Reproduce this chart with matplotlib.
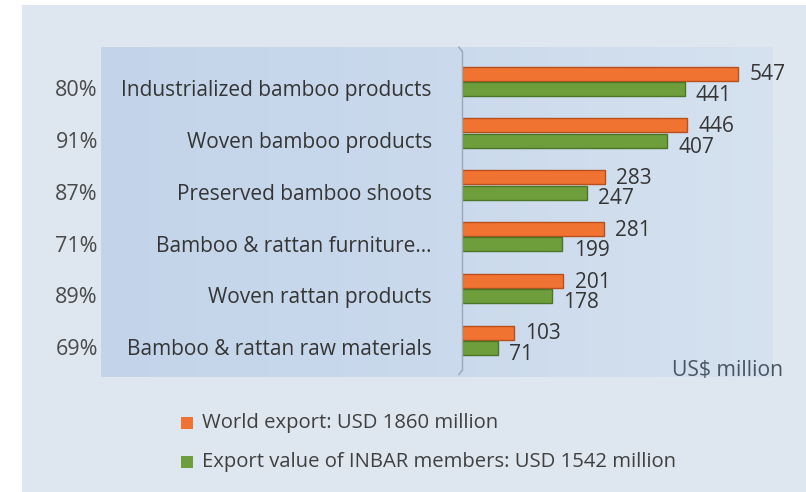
import numpy as np
import matplotlib.pyplot as plt
import matplotlib.transforms as mtransforms
from matplotlib.patches import Rectangle
from matplotlib.colors import LinearSegmentedColormap

# Export values of bamboo & rattan products (US$ million)
categories = ["Industrialized bamboo products", "Woven bamboo products",
              "Preserved bamboo shoots", "Bamboo & rattan furniture...",
              "Woven rattan products", "Bamboo & rattan raw materials"]
world_export = [547, 446, 283, 281, 201, 103]
inbar_export = [441, 407, 247, 199, 178, 71]
inbar_share = ["80%", "91%", "87%", "71%", "89%", "69%"]

legend_labels = ["World export: USD 1860 million",
                 "Export value of INBAR members: USD 1542 million"]

W, H = 806, 492
ORANGE, ORANGE_EDGE = "#f07331", "#b9501c"
GREEN, GREEN_EDGE = "#6e9d3c", "#4b7527"
TEXT = "#353535"
FONT = "Open Sans"

plt.rcParams['font.family'] = [FONT, 'DejaVu Sans']

fig = plt.figure(figsize=(W / 100, H / 100), dpi=100)
fig.patch.set_facecolor("white")


def px_box(x0, y0, x1, y1):
    # pixel box (top-left origin) -> figure fraction [l, b, w, h]
    return [x0 / W, 1 - y1 / H, (x1 - x0) / W, (y1 - y0) / H]


# outer light frame
fig.patches.append(Rectangle((22 / W, 0), 1 - 22 / W, 1 - 5 / H,
                             transform=fig.transFigure, facecolor="#dee6f0",
                             edgecolor="none", zorder=0))

# inner panel with a soft left-to-right gradient
bg = fig.add_axes(px_box(101, 47, 773, 377), zorder=1)
grad = np.linspace(0, 1, 256).reshape(1, -1)
cmap = LinearSegmentedColormap.from_list("panel", ["#c3d4ea", "#cad9ec", "#d6e2ef"])
bg.imshow(grad, aspect="auto", cmap=cmap, extent=[0, 1, 0, 1])
bg.set_axis_off()

# bar area
ax = fig.add_axes(px_box(462, 47, 773, 377), zorder=2)
ax.patch.set_alpha(0)
n = len(categories)
y = np.arange(n)
bh, off = 0.27, 0.15
ax.barh(y - off, world_export, height=bh, color=ORANGE, edgecolor=ORANGE_EDGE,
        linewidth=1.0)
ax.barh(y + off, inbar_export, height=bh, color=GREEN, edgecolor=GREEN_EDGE,
        linewidth=1.0)
ax.set_xlim(0, 616)
ax.set_ylim(n - 1 + 0.708, -0.662)
ax.set_axis_off()

# value labels
for i in range(n):
    ax.annotate(str(world_export[i]), (world_export[i], y[i] - off),
                xytext=(8, -1), textcoords="offset points", ha="left",
                va="center", fontsize=15, color=TEXT)
    ax.annotate(str(inbar_export[i]), (inbar_export[i], y[i] + off),
                xytext=(8, -4.5), textcoords="offset points", ha="left",
                va="center", fontsize=15, color=TEXT)

# 3D-ish wall edge of the value axis
ax.plot([0.0, 0.0], [-0.58, n - 1 + 0.58], color="#9aa8b8", lw=1.0,
        clip_on=False)
ax.plot([0.0, -6], [-0.58, -0.66], color="#9aa8b8", lw=1.0, clip_on=False)
ax.plot([0.0, -6], [n - 1 + 0.58, n - 1 + 0.66], color="#9aa8b8", lw=1.0,
        clip_on=False)

# category and share labels
tr = mtransforms.blended_transform_factory(fig.transFigure, ax.transData)
for i in range(n):
    fig.text(432 / W, y[i] + 0.18, categories[i], transform=tr, ha="right",
             va="center", fontsize=15, color=TEXT)
    fig.text(98 / W, y[i] + 0.18, inbar_share[i], transform=tr, ha="right",
             va="center", fontsize=15.5, color="#4a4a4a")

fig.text(783 / W, 1 - 370 / H, "US$ million", ha="right", va="center",
         fontsize=15.2, color="#4a5562")

# legend
for k, (lab, col) in enumerate(zip(legend_labels, [ORANGE, GREEN])):
    yc = 423 + 39 * k
    fig.patches.append(Rectangle((181 / W, 1 - (yc + 6) / H), 12 / W, 12 / H,
                                 transform=fig.transFigure, facecolor=col,
                                 edgecolor="none", zorder=3))
    fig.text(202 / W, 1 - yc / H, lab, ha="left", va="center",
             fontsize=14.6, color="#404040")

fig.savefig("out.png", dpi=100)
